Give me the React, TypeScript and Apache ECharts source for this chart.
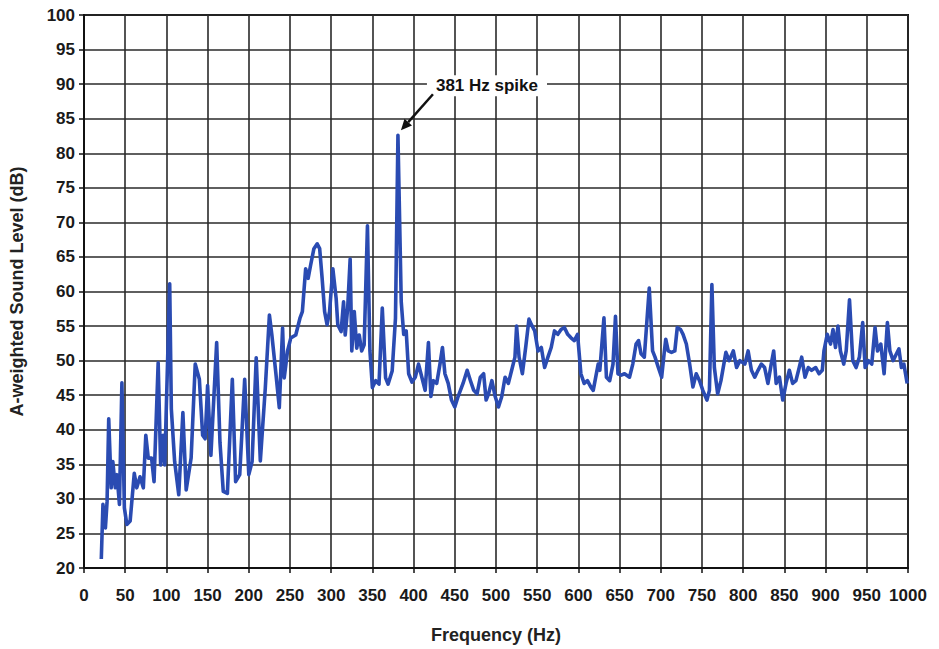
import React, { useEffect, useRef } from "react";
import * as echarts from "echarts";

const frequencies: number[] = [
  21, 23, 26, 28, 30, 33, 35, 38, 40, 43, 46, 49, 52, 56, 61, 64, 68, 72, 75, 78,
  82, 85, 90, 93, 96, 98, 104, 106, 110, 115, 120, 124, 130, 135, 140, 144, 147, 150, 154, 161,
  165, 169, 174, 180, 184, 189, 195, 200, 204, 209, 214, 220, 225, 228, 233, 237, 241, 243, 247, 251,
  257, 262, 265, 269, 272, 275, 279, 283, 286, 289, 292, 295, 298, 302, 306, 308, 312, 315, 317, 320,
  323, 325, 328, 331, 334, 337, 340, 344, 347, 350, 354, 358, 362, 366, 369, 374, 378, 381, 385, 388,
  391, 394, 398, 402, 406, 410, 414, 418, 421, 424, 428, 432, 435, 438, 442, 446, 450, 454, 460, 465,
  469, 473, 477, 481, 485, 488, 491, 495, 499, 503, 507, 511, 515, 519, 523, 525, 528, 532, 536, 540,
  543, 547, 551, 555, 559, 563, 567, 571, 575, 579, 583, 587, 591, 595, 599, 603, 607, 611, 615, 618,
  624, 626, 631, 634, 638, 642, 645, 648, 652, 656, 662, 666, 670, 673, 676, 680, 686, 690, 693, 697,
  701, 704, 706, 709, 713, 717, 720, 724, 727, 731, 735, 739, 743, 747, 751, 756, 759, 762, 765, 769,
  773, 779, 783, 788, 792, 796, 802, 806, 810, 814, 818, 822, 826, 830, 834, 837, 840, 844, 848, 852,
  856, 860, 864, 868, 871, 875, 879, 883, 888, 892, 896, 898, 902, 906, 909, 912, 915, 918, 922, 925,
  929, 933, 937, 941, 945, 948, 952, 956, 960, 963, 967, 971, 975, 978, 982, 986, 989, 992, 995, 999,
];

const levels: number[] = [
  21.3, 29.2, 25.8, 29.6, 41.6, 31.6, 35.4, 31.6, 33.5, 29.2, 46.8, 28.7, 26.3, 26.8, 33.7, 31.6, 33.2, 31.6, 39.2, 35.9,
  35.9, 32.5, 49.7, 34.9, 39.2, 34.9, 61.1, 43.0, 35.4, 30.6, 42.5, 31.3, 35.9, 49.5, 47.3, 39.2, 38.7, 46.4, 36.3, 52.6,
  38.2, 31.1, 30.8, 47.3, 32.5, 33.5, 47.3, 33.5, 35.4, 50.4, 35.5, 46.0, 56.6, 53.7, 48.0, 43.2, 54.7, 47.5, 51.4, 53.3,
  53.7, 56.1, 57.1, 63.3, 61.9, 63.8, 66.2, 66.9, 66.2, 61.9, 57.1, 55.2, 57.1, 63.3, 59.0, 55.2, 54.2, 58.5, 53.7, 57.6,
  64.7, 51.4, 57.1, 51.8, 53.7, 51.4, 52.3, 69.5, 51.4, 46.1, 47.1, 46.6, 57.6, 47.5, 46.6, 48.5, 56.1, 82.6, 58.5, 53.8,
  54.3, 48.1, 46.9, 47.6, 49.5, 47.6, 45.7, 52.6, 44.8, 47.1, 46.7, 49.5, 51.9, 48.1, 46.7, 44.3, 43.3, 44.8, 46.7, 48.6,
  47.1, 45.7, 45.2, 47.6, 48.1, 44.3, 45.2, 47.1, 44.8, 43.3, 44.8, 47.6, 46.7, 48.6, 50.5, 55.0, 50.5, 48.1, 51.9, 56.0,
  55.2, 54.3, 51.4, 51.9, 49.0, 50.5, 51.9, 54.3, 53.8, 54.5, 54.8, 53.8, 53.3, 52.9, 53.8, 48.1, 46.7, 47.1, 46.2, 45.7,
  49.5, 48.6, 56.2, 47.6, 47.1, 49.5, 56.4, 48.1, 47.9, 48.1, 47.6, 49.5, 52.4, 52.9, 51.0, 50.5, 60.5, 51.4, 50.5, 49.0,
  47.6, 51.0, 53.1, 51.4, 51.2, 51.4, 54.8, 54.5, 53.8, 52.4, 49.5, 46.2, 48.1, 47.1, 45.7, 44.3, 45.7, 61.0, 49.0, 45.2,
  47.1, 51.2, 50.0, 51.4, 49.0, 50.0, 49.5, 51.4, 48.6, 47.6, 48.6, 49.5, 49.0, 46.7, 49.5, 51.4, 46.7, 47.6, 44.3, 46.7,
  48.6, 46.7, 47.1, 49.0, 50.5, 47.6, 49.0, 48.6, 49.0, 48.1, 48.6, 51.4, 53.8, 52.4, 54.5, 51.9, 55.0, 51.4, 49.5, 51.4,
  58.8, 50.0, 49.0, 50.5, 55.5, 49.0, 50.0, 49.5, 54.8, 51.4, 52.4, 48.1, 55.5, 51.4, 50.0, 51.0, 51.7, 49.0, 49.5, 46.7,
];

const annotationText = "381 Hz spike";
const spikePoint: [number, number] = [381, 82.6];

const FONT = "'Liberation Sans', Arial, Helvetica, sans-serif";

export default function App() {
  const ref = useRef<HTMLDivElement>(null);

  useEffect(() => {
    document.body.style.margin = "0";
    if (!ref.current) return;
    const chart = echarts.init(ref.current, undefined, { renderer: "svg" });
    const seriesData = frequencies.map((f, i) => [f, levels[i]]);

    chart.setOption({
      animation: false,
      backgroundColor: "#ffffff",
      grid: {
        left: 81,
        right: 31,
        top: 15,
        bottom: 75,
        show: true,
        borderColor: "#111",
        borderWidth: 2,
        backgroundColor: "transparent",
      },
      xAxis: {
        type: "value",
        min: 0,
        max: 1000,
        interval: 50,
        name: "Frequency (Hz)",
        nameLocation: "middle",
        nameGap: 58,
        nameTextStyle: { fontFamily: FONT, fontWeight: "bold", fontSize: 18, color: "#222" },
        axisLine: { show: true, lineStyle: { color: "#111", width: 2 } },
        axisTick: { show: true, length: 5, lineStyle: { color: "#111", width: 1.5 } },
        axisLabel: {
          fontFamily: FONT,
          fontWeight: "bold",
          fontSize: 17,
          color: "#1a1a1a",
          margin: 19,
          formatter: (v: number) => String(v),
        },
        splitLine: { show: true, lineStyle: { color: "#2a2a2a", width: 1.6 } },
      },
      yAxis: {
        type: "value",
        min: 20,
        max: 100,
        interval: 5,
        name: "A-weighted Sound Level (dB)",
        nameLocation: "middle",
        nameGap: 58,
        nameTextStyle: { fontFamily: FONT, fontWeight: "bold", fontSize: 18, color: "#222" },
        axisLine: { show: true, lineStyle: { color: "#111", width: 2 } },
        axisTick: { show: true, length: 5, lineStyle: { color: "#111", width: 1.5 } },
        axisLabel: {
          fontFamily: FONT,
          fontWeight: "bold",
          fontSize: 17,
          color: "#1a1a1a",
          margin: 9,
          formatter: (v: number) => String(v),
        },
        splitLine: { show: true, lineStyle: { color: "#2a2a2a", width: 1.6 } },
      },
      series: [
        {
          type: "line",
          data: seriesData,
          showSymbol: false,
          symbol: "none",
          smooth: false,
          lineStyle: { color: "#2a4bb2", width: 3.6, join: "round" },
          z: 3,
        },
      ],
    });

    const p = chart.convertToPixel({ gridIndex: 0 }, spikePoint) as number[];
    const tip = [p[0] + 3, p[1] - 5];
    const tail = [p[0] + 35, p[1] - 41];
    const dx = tip[0] - tail[0];
    const dy = tip[1] - tail[1];
    const len = Math.sqrt(dx * dx + dy * dy);
    const ux = dx / len;
    const uy = dy / len;
    const hl = 11;
    const hw = 5;
    const base = [tip[0] - ux * hl, tip[1] - uy * hl];
    const headPts = [
      tip,
      [base[0] - uy * hw, base[1] + ux * hw],
      [base[0] + uy * hw, base[1] - ux * hw],
    ];

    chart.setOption({
      graphic: [
        {
          type: "text",
          x: p[0] + 29,
          y: p[1] - 60,
          z: 10,
          style: {
            text: annotationText,
            fontFamily: FONT,
            fontWeight: "bold",
            fontSize: 17,
            fill: "#111",
            backgroundColor: "#ffffff",
            padding: [2, 9, 2, 9],
          },
        },
        {
          type: "line",
          z: 10,
          shape: { x1: tail[0], y1: tail[1], x2: base[0], y2: base[1] },
          style: { stroke: "#111", lineWidth: 2.5 },
        },
        {
          type: "polygon",
          z: 10,
          shape: { points: headPts },
          style: { fill: "#111" },
        },
      ],
    });

    return () => chart.dispose();
  }, []);

  return <div ref={ref} style={{ width: 939, height: 649 }} />;
}
